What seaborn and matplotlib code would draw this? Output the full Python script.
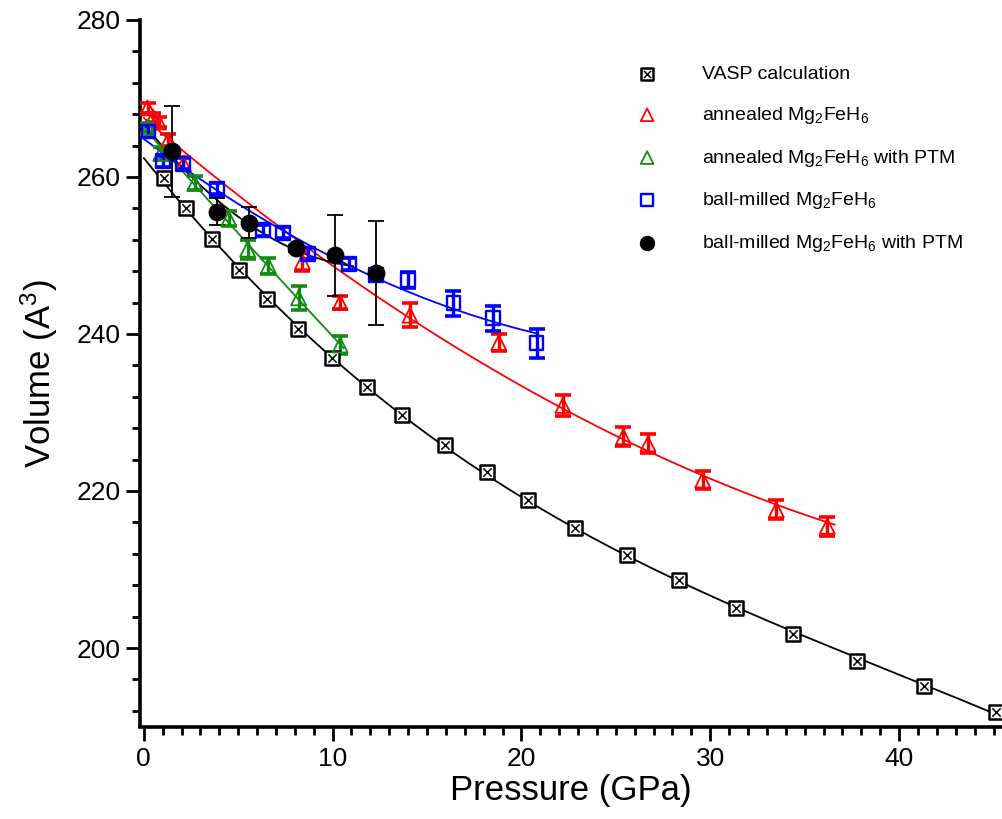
import numpy as np
import pandas as pd
import matplotlib
matplotlib.use("Agg")
import matplotlib.pyplot as plt
from matplotlib import font_manager
from matplotlib.ticker import MultipleLocator
import seaborn as sns

# VASP calculation
vasp_p = [1.06, 2.22, 3.60, 5.03, 6.51, 8.15, 9.95, 11.80, 13.65, 15.93,
          18.20, 20.37, 22.86, 25.61, 28.36, 31.38, 34.39, 37.78, 41.32, 45.13]
vasp_v = [259.9, 256.0, 252.1, 248.2, 244.4, 240.6, 236.9, 233.2, 229.7, 225.9,
          222.4, 218.9, 215.3, 211.9, 208.6, 205.1, 201.8, 198.4, 195.2, 191.9]

# annealed Mg2FeH6
ann_p = [0.2, 0.5, 0.8, 1.3, 2.1, 8.4, 10.4, 14.1, 18.8, 22.2, 25.4, 26.7, 29.6, 33.5, 36.2]
ann_v = [268.8, 267.6, 267.0, 264.7, 261.7, 249.2, 244.0, 242.4, 238.9, 230.9,
         226.9, 226.0, 221.4, 217.6, 215.5]
ann_err = [0.6, 0.6, 0.6, 0.8, 0.8, 1.2, 0.8, 1.5, 1.1, 1.3, 1.2, 1.2, 1.2, 1.2, 1.2]

# annealed Mg2FeH6 with PTM
annptm_p = [0.2, 0.9, 2.7, 4.5, 5.5, 6.6, 8.2, 10.4]
annptm_v = [266.3, 263.0, 259.2, 254.7, 250.8, 248.7, 244.6, 238.6]
annptm_err = [0.6, 0.8, 0.9, 1.0, 1.2, 1.0, 1.5, 1.2]

# ball-milled Mg2FeH6
bm_p = [0.25, 1.0, 2.1, 3.9, 6.3, 7.35, 8.7, 10.85, 12.3, 14.0, 16.4, 18.5, 20.8]
bm_v = [265.8, 262.0, 261.7, 258.5, 253.2, 252.9, 250.2, 248.9, 247.5, 246.9,
        243.9, 242.0, 238.8]
bm_err = [0.7, 0.7, 0.7, 0.7, 0.7, 0.7, 0.7, 0.8, 0.8, 1.0, 1.6, 1.6, 1.9]

# ball-milled Mg2FeH6 with PTM
bmptm_p = [1.5, 3.9, 5.55, 8.05, 10.15, 12.3]
bmptm_v = [263.3, 255.6, 254.2, 250.9, 250.0, 247.8]
bmptm_err = [5.8, 1.7, 2.0, 0.5, 5.1, 6.6]

sns.set_style("ticks")
names = {f.name for f in font_manager.fontManager.ttflist}
main_font = "Liberation Sans"
narrow_font = "Liberation Sans Narrow" if "Liberation Sans Narrow" in names else main_font
plt.rcParams["font.family"] = [main_font, "DejaVu Sans"]
plt.rcParams["mathtext.default"] = "regular"
plt.rcParams["text.color"] = "black"
plt.rcParams["axes.labelcolor"] = "black"
plt.rcParams["xtick.color"] = "black"
plt.rcParams["ytick.color"] = "black"

RED, GREEN, BLUE, BLACK = "#ff0000", "#138a13", "#0000ff", "#000000"

fig = plt.figure(figsize=(10.02, 8.19), dpi=100)
ax = fig.add_axes([140 / 1002, 92.5 / 819, 1 - 140 / 1002, (726.5 - 20) / 819])


def fit_curve(p, v, deg, p_end):
    coef = np.polyfit(p, v, deg)
    grid = np.linspace(0, p_end, 200)
    return pd.DataFrame({"P": grid, "V": np.polyval(coef, grid)})


# fitted curves
for p, v, deg, end, col in [
    (vasp_p, vasp_v, 3, 45.5, BLACK),
    (ann_p, ann_v, 2, 36.6, RED),
    (annptm_p, annptm_v, 2, 10.6, GREEN),
    (bm_p, bm_v, 2, 20.8, BLUE),
    (bmptm_p, bmptm_v, 2, 11.1, BLACK),
]:
    d = fit_curve(p, v, deg, end)
    sns.lineplot(data=d, x="P", y="V", color=col, lw=1.3, ax=ax, zorder=2)

# error bars
ax.errorbar(ann_p, ann_v, yerr=ann_err, fmt="none", ecolor=RED, elinewidth=2.4,
            capsize=5.5, capthick=2.6, zorder=3)
ax.errorbar(annptm_p, annptm_v, yerr=annptm_err, fmt="none", ecolor=GREEN, elinewidth=2.4,
            capsize=5.5, capthick=2.6, zorder=3)
ax.errorbar(bm_p, bm_v, yerr=bm_err, fmt="none", ecolor=BLUE, elinewidth=2.4,
            capsize=5.5, capthick=2.6, zorder=3)
ax.errorbar(bmptm_p, bmptm_v, yerr=bmptm_err, fmt="none", ecolor=BLACK, elinewidth=1.3,
            capsize=6, capthick=1.3, zorder=3)

# markers
h_sq = ax.scatter(vasp_p, vasp_v, marker="s", s=95, facecolors="white",
                  edgecolors=BLACK, linewidths=1.8, zorder=4)
h_x = ax.scatter(vasp_p, vasp_v, marker="x", s=36, color=BLACK, linewidths=1.1, zorder=5)
h_ann = ax.scatter(ann_p, ann_v, marker="^", s=115, facecolors="none",
                   edgecolors=RED, linewidths=1.3, zorder=4)
h_annptm = ax.scatter(annptm_p, annptm_v, marker="^", s=115, facecolors="none",
                      edgecolors=GREEN, linewidths=1.3, zorder=4)
h_bm = ax.scatter(bm_p, bm_v, marker="s", s=100, facecolors="none",
                  edgecolors=BLUE, linewidths=1.7, zorder=4)
h_bmptm = ax.scatter(bmptm_p, bmptm_v, marker="o", s=140, color=BLACK, zorder=4)

ax.set_xlim(-0.2, 45.45)
ax.set_ylim(190, 280)
ax.xaxis.set_major_locator(MultipleLocator(10))
ax.xaxis.set_minor_locator(MultipleLocator(1))
ax.yaxis.set_major_locator(MultipleLocator(20))
ax.yaxis.set_minor_locator(MultipleLocator(4))
ax.set_yticks([200, 220, 240, 260, 280])
ax.tick_params(which="major", direction="out", length=10, width=2.0, color=BLACK)
ax.tick_params(which="minor", direction="out", length=5.5, width=2.0, color=BLACK)
ax.tick_params(axis="y", labelsize=19, pad=4)
ax.tick_params(axis="x", labelsize=19, pad=5)
for lab in ax.get_xticklabels():
    lab.set_family(narrow_font)
ax.set_xlabel("Pressure (GPa)", fontsize=25, labelpad=2)
ax.set_ylabel("Volume (A$^3$)", fontsize=25, labelpad=12)
sns.despine(ax=ax)
for s in ["left", "bottom"]:
    ax.spines[s].set_linewidth(2.6)
    ax.spines[s].set_color(BLACK)

labels = [
    "VASP calculation",
    "annealed Mg$_2$FeH$_6$",
    "annealed Mg$_2$FeH$_6$ with PTM",
    "ball-milled Mg$_2$FeH$_6$",
    "ball-milled Mg$_2$FeH$_6$ with PTM",
]
leg = ax.legend([(h_sq, h_x), h_ann, h_annptm, h_bm, h_bmptm], labels,
                loc="upper left", bbox_to_anchor=(618 / 1002, 1 - 48 / 819),
                bbox_transform=fig.transFigure, frameon=False, fontsize=14,
                handlelength=1.2, handletextpad=2.2, labelspacing=1.12,
                markerscale=0.85)

fig.savefig("out.png", dpi=100)
